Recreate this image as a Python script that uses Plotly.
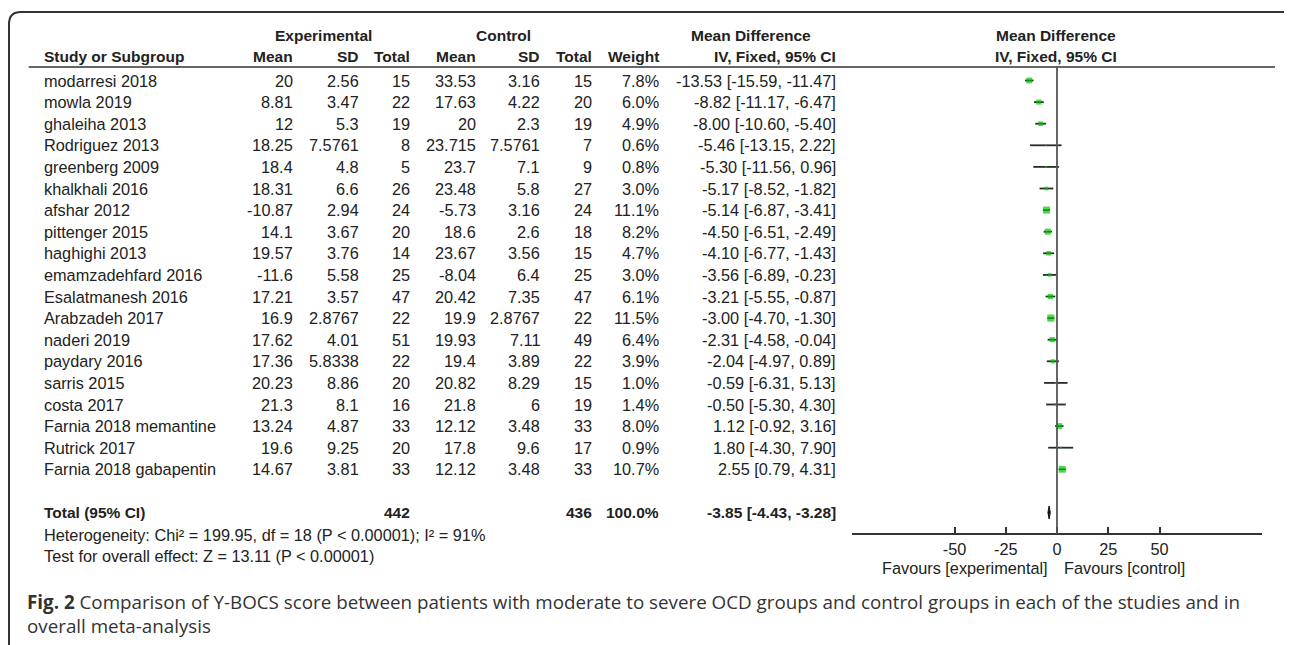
import plotly.graph_objects as go

W, H = 1292, 645
OFF = 8  # the page body has an 8px margin; shift everything to compensate
FW, FH = W - OFF, H - OFF

studies = ["modarresi 2018", "mowla 2019", "ghaleiha 2013", "Rodriguez 2013", "greenberg 2009",
           "khalkhali 2016", "afshar 2012", "pittenger 2015", "haghighi 2013", "emamzadehfard 2016",
           "Esalatmanesh 2016", "Arabzadeh 2017", "naderi 2019", "paydary 2016", "sarris 2015",
           "costa 2017", "Farnia 2018 memantine", "Rutrick 2017", "Farnia 2018 gabapentin"]
exp_mean = [20, 8.81, 12, 18.25, 18.4, 18.31, -10.87, 14.1, 19.57, -11.6, 17.21, 16.9, 17.62, 17.36,
            20.23, 21.3, 13.24, 19.6, 14.67]
exp_sd = [2.56, 3.47, 5.3, 7.5761, 4.8, 6.6, 2.94, 3.67, 3.76, 5.58, 3.57, 2.8767, 4.01, 5.8338,
          8.86, 8.1, 4.87, 9.25, 3.81]
exp_n = [15, 22, 19, 8, 5, 26, 24, 20, 14, 25, 47, 22, 51, 22, 20, 16, 33, 20, 33]
ctl_mean = [33.53, 17.63, 20, 23.715, 23.7, 23.48, -5.73, 18.6, 23.67, -8.04, 20.42, 19.9, 19.93, 19.4,
            20.82, 21.8, 12.12, 17.8, 12.12]
ctl_sd = [3.16, 4.22, 2.3, 7.5761, 7.1, 5.8, 3.16, 2.6, 3.56, 6.4, 7.35, 2.8767, 7.11, 3.89,
          8.29, 6, 3.48, 9.6, 3.48]
ctl_n = [15, 20, 19, 7, 9, 27, 24, 18, 15, 25, 47, 22, 49, 22, 15, 19, 33, 17, 33]
weight = [7.8, 6.0, 4.9, 0.6, 0.8, 3.0, 11.1, 8.2, 4.7, 3.0, 6.1, 11.5, 6.4, 3.9, 1.0, 1.4, 8.0, 0.9, 10.7]
md = [-13.53, -8.82, -8.00, -5.46, -5.30, -5.17, -5.14, -4.50, -4.10, -3.56, -3.21, -3.00, -2.31, -2.04,
      -0.59, -0.50, 1.12, 1.80, 2.55]
ci_lo = [-15.59, -11.17, -10.60, -13.15, -11.56, -8.52, -6.87, -6.51, -6.77, -6.89, -5.55, -4.70, -4.58,
         -4.97, -6.31, -5.30, -0.92, -4.30, 0.79]
ci_hi = [-11.47, -6.47, -5.40, 2.22, 0.96, -1.82, -3.41, -2.49, -1.43, -0.23, -0.87, -1.30, -0.04,
         0.89, 5.13, 4.30, 3.16, 7.90, 4.31]

total_exp_n = 442
total_ctl_n = 436
total_weight = 100.0
total_md, total_lo, total_hi = -3.85, -4.43, -3.28

axis_ticks = [-50, -25, 0, 25, 50]
heterogeneity = "Heterogeneity: Chi² = 199.95, df = 18 (P < 0.00001); I² = 91%"
overall = "Test for overall effect: Z = 13.11 (P < 0.00001)"
fav_left = "Favours [experimental]"
fav_right = "Favours [control]"
caption1 = ("<b>Fig. 2</b> Comparison of Y-BOCS score between patients with moderate to severe OCD "
            "groups and control groups in each of the studies and in")
caption2 = "overall meta-analysis"

# ---- layout geometry (window pixels) ----
ROW0, ROWH = 80.5, 21.6


def prow(py):
    return (py - ROW0) / ROWH


def px(x):
    return (x - OFF) / FW


def pyp(y):
    return 1 - (y - OFF) / FH


FONT = "Liberation Sans, Arial, sans-serif"
FS = 16.3
FSB = 15.5
TC = "#222222"

annotations = []


def txt(x, row, text, anchor="right", bold=False, size=None, color=TC, family=FONT):
    if size is None:
        size = FSB if bold else FS
    if bold:
        text = f"<b>{text}</b>"
    annotations.append(dict(x=px(x), y=row, xref="paper", yref="y", text=text, showarrow=False,
                            xanchor=anchor, yanchor="middle",
                            font=dict(family=family, size=size, color=color)))


def g(v):
    return "{:g}".format(v)


# headers
r_h1, r_h2 = prow(35), prow(56)
txt(323, r_h1, "Experimental", "center", True)
txt(503.5, r_h1, "Control", "center", True)
txt(750.5, r_h1, "Mean Difference", "center", True)
txt(1055.5, r_h1, "Mean Difference", "center", True)
txt(42, r_h2, "Study or Subgroup", "left", True)
cols = [295, 361, 412, 478, 542, 594, 661, 838]
for xx, lab in zip(cols, ["Mean", "SD", "Total", "Mean", "SD", "Total", "Weight", "IV, Fixed, 95% CI"]):
    txt(xx, r_h2, lab, "right", True)
txt(1055.5, r_h2, "IV, Fixed, 95% CI", "center", True)

# study rows
for i, s in enumerate(studies):
    txt(42, i, s, "left")
    vals = [g(exp_mean[i]), g(exp_sd[i]), str(exp_n[i]), g(ctl_mean[i]), g(ctl_sd[i]), str(ctl_n[i]),
            f"{weight[i]:.1f}%", f"{md[i]:.2f} [{ci_lo[i]:.2f}, {ci_hi[i]:.2f}]"]
    for xx, v in zip(cols, vals):
        txt(xx, i, v, "right")

# total row
r_tot = len(studies) + 1
txt(42, r_tot, "Total (95% CI)", "left", True)
txt(cols[2], r_tot, str(total_exp_n), "right", True)
txt(cols[5], r_tot, str(total_ctl_n), "right", True)
txt(cols[6], r_tot, f"{total_weight:.1f}%", "right", True)
txt(cols[7], r_tot, f"{total_md:.2f} [{total_lo:.2f}, {total_hi:.2f}]", "right", True)
txt(42, prow(535), heterogeneity, "left")
txt(42, prow(556), overall, "left")

# favours
txt(965, prow(568), fav_left, "center")
txt(1124, prow(568), fav_right, "center")

# caption
txt(25, prow(602), caption1, "left", size=18.8, color="#333333", family="Open Sans, sans-serif")
txt(25, prow(626), caption2, "left", size=18.8, color="#333333", family="Open Sans, sans-serif")

fig = go.Figure()

# CI lines
cx, cy = [], []
for i in range(len(studies)):
    cx += [ci_lo[i], ci_hi[i], None]
    cy += [i, i, None]
fig.add_trace(go.Scatter(x=cx, y=cy, mode="lines", line=dict(color="#2a2a2a", width=1.8),
                         hoverinfo="skip", showlegend=False))

# squares
fig.add_trace(go.Scatter(x=md, y=list(range(len(studies))), mode="markers",
                         marker=dict(symbol="square", color="#00c800",
                                     size=[2.1 * w ** 0.5 for w in weight], line=dict(width=0)),
                         showlegend=False))

# total diamond
dh = 6.5 / ROWH
fig.add_trace(go.Scatter(x=[total_lo, total_md, total_hi, total_md, total_lo],
                         y=[r_tot, r_tot - dh, r_tot, r_tot + dh, r_tot],
                         mode="lines", fill="toself", fillcolor="#111111",
                         line=dict(color="#111111", width=1), showlegend=False, hoverinfo="skip"))

shapes = [
    # header underline
    dict(type="line", xref="paper", yref="y", x0=px(28.7), x1=px(1275), y0=prow(67), y1=prow(67),
         line=dict(color="#333333", width=1.5)),
    # zero line
    dict(type="line", xref="x", yref="y", x0=0, x1=0, y0=prow(67), y1=prow(534),
         line=dict(color="#555555", width=1.8)),
    # border
    dict(type="path", xref="paper", yref="paper",
         path=(f"M {px(9)} {pyp(700)} L {px(9)} {pyp(24)} "
               f"Q {px(9)} {pyp(12)} {px(21)} {pyp(12)} "
               f"L {px(1283)} {pyp(12)} Q {px(1295)} {pyp(12)} {px(1295)} {pyp(24)} "
               f"L {px(1295)} {pyp(700)}"),
         line=dict(color="#333333", width=2)),
]

fig.update_layout(
    width=FW, height=FH, margin=dict(l=0, r=0, t=0, b=0),
    paper_bgcolor="white", plot_bgcolor="white",
    showlegend=False, annotations=annotations, shapes=shapes,
    xaxis=dict(domain=[px(852), px(1262)], range=[-100, 100], anchor="free",
               position=pyp(534), showgrid=False, zeroline=False, showline=True,
               linecolor="#333333", linewidth=2, ticks="inside", ticklen=6, tickwidth=1.5,
               tickcolor="#333333", tickvals=axis_ticks, ticktext=[str(t) for t in axis_ticks],
               tickfont=dict(family=FONT, size=FS, color=TC), fixedrange=True),
    yaxis=dict(domain=[0, 1], range=[prow(H), prow(OFF)], visible=False, fixedrange=True),
)

fig.write_html("out.html")
